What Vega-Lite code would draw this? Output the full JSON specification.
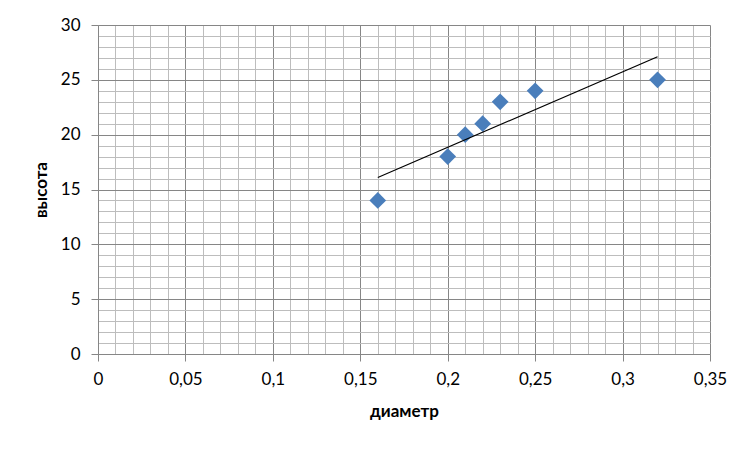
{
  "$schema": "https://vega.github.io/schema/vega-lite/v6.json",
  "width": 612,
  "height": 329,
  "autosize": {"type": "none"},
  "padding": {"left": 98, "top": 25, "right": 42, "bottom": 98},
  "background": "white",
  "config": {
    "locale": {"number": {"decimal": ",", "thousands": " ", "grouping": [3], "currency": ["", ""]}},
    "font": "Lato",
    "view": {"stroke": null}
  },
  "data": {
    "values": [
      {"диаметр": 0.16, "высота": 14},
      {"диаметр": 0.2, "высота": 18},
      {"диаметр": 0.21, "высота": 20},
      {"диаметр": 0.22, "высота": 21},
      {"диаметр": 0.23, "высота": 23},
      {"диаметр": 0.25, "высота": 24},
      {"диаметр": 0.32, "высота": 25}
    ]
  },
  "encoding": {
    "x": {
      "field": "диаметр", "type": "quantitative",
      "scale": {"domain": [0, 0.35], "nice": false, "zero": false},
      "axis": {
        "title": "диаметр",
        "values": [0,0.01,0.02,0.03,0.04,0.05,0.06,0.07,0.08,0.09,0.1,0.11,0.12,0.13,0.14,0.15,0.16,0.17,0.18,0.19,0.2,0.21,0.22,0.23,0.24,0.25,0.26,0.27,0.28,0.29,0.3,0.31,0.32,0.33,0.34,0.35],
        "labelExpr": "round(datum.value*100) % 5 == 0 ? format(datum.value, '.2~f') : ''",
        "labelOverlap": false,
        "labelFontSize": 17,
        "labelColor": "#000000",
        "labelPadding": 10,
        "labelFlush": false,
        "tickSize": {"condition": {"test": "round(datum.value*100) % 5 == 0", "value": 7}, "value": 0},
        "tickColor": "#868686",
        "domainColor": "#868686",
        "domainWidth": 1,
        "grid": true,
        "gridColor": {"condition": {"test": "round(datum.value*100) % 5 == 0", "value": "#868686"}, "value": "#bdbdbd"},
        "gridWidth": 1,
        "titleFontSize": 17,
        "titleFontWeight": "bold",
        "titleColor": "#000000",
        "titlePadding": 16
      }
    },
    "y": {
      "field": "высота", "type": "quantitative",
      "scale": {"domain": [0, 30], "nice": false},
      "axis": {
        "title": "высота",
        "values": [0,1,2,3,4,5,6,7,8,9,10,11,12,13,14,15,16,17,18,19,20,21,22,23,24,25,26,27,28,29,30],
        "labelExpr": "datum.value % 5 == 0 ? format(datum.value, 'd') : ''",
        "labelOverlap": false,
        "labelFontSize": 17,
        "labelColor": "#000000",
        "labelPadding": 11,
        "labelFlush": false,
        "tickSize": {"condition": {"test": "datum.value % 5 == 0", "value": 7}, "value": 0},
        "tickColor": "#868686",
        "domainColor": "#868686",
        "domainWidth": 1,
        "grid": true,
        "gridColor": {"condition": {"test": "datum.value % 5 == 0", "value": "#868686"}, "value": "#bdbdbd"},
        "gridWidth": 1,
        "titleFontSize": 17,
        "titleFontWeight": "bold",
        "titleColor": "#000000",
        "titlePadding": 10
      }
    }
  },
  "layer": [
    {
      "mark": {"type": "point", "shape": "diamond", "filled": true, "size": 280, "color": "#4a7ebb", "opacity": 1}
    },
    {
      "transform": [{"regression": "высота", "on": "диаметр", "method": "linear"}],
      "mark": {"type": "line", "color": "#000000", "strokeWidth": 1.2}
    }
  ]
}
